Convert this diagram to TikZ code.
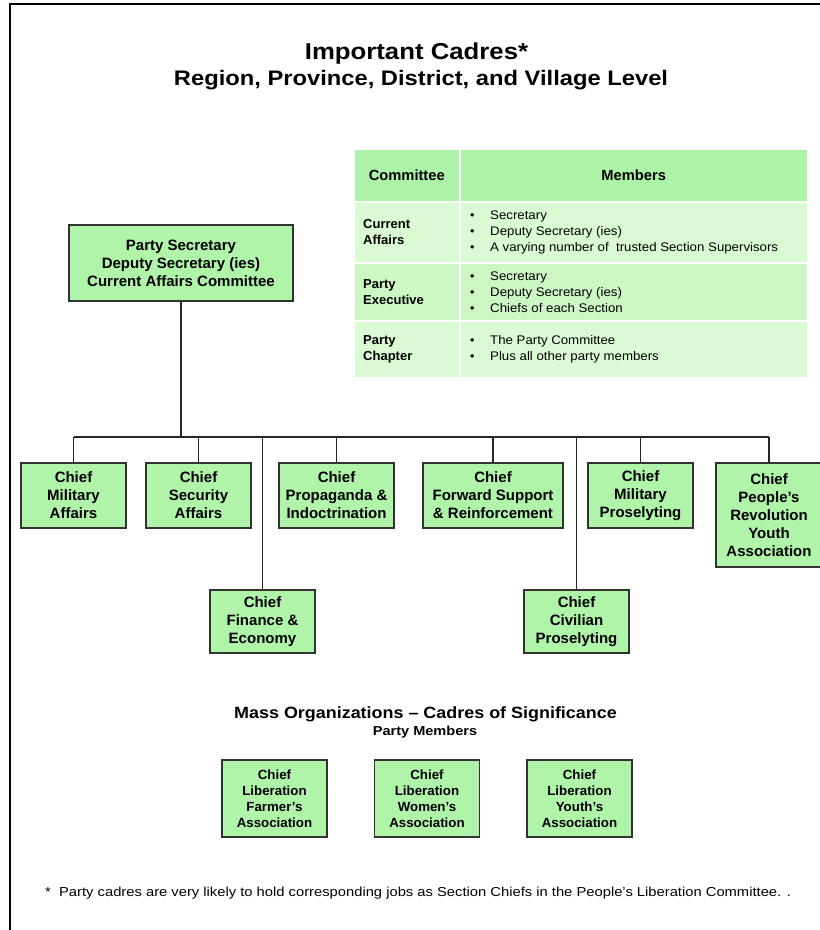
\documentclass[tikz,border=0pt]{standalone}
\usepackage{graphicx}
\usepackage{fontspec}
\setmainfont{Liberation Sans}
\definecolor{boxgreen}{RGB}{176,244,170}
\definecolor{boxline}{RGB}{50,50,50}
\definecolor{tblhead}{RGB}{172,242,168}
\definecolor{tbllight}{RGB}{218,250,212}
\definecolor{tblmid}{RGB}{204,246,196}
\newcommand\blt[1]{\makebox[21pt][l]{\hspace{1pt}\textbullet}\scalebox{1.06}[1]{#1}}
\begin{document}
\begin{tikzpicture}[x=1pt,y=-1pt,
  cbox/.style={draw=boxline,line width=1.5pt,fill=boxgreen,align=center,inner sep=0pt,
    font=\bfseries\fontsize{15}{18}\selectfont},
  rowbox/.style={cbox,minimum width=105pt,minimum height=65pt},
  lowbox/.style={cbox,minimum width=105pt,minimum height=63pt},
  mbox/.style={cbox,font=\bfseries\fontsize{13.3}{16}\selectfont,minimum width=105pt,minimum height=77pt},
  link/.style={draw=black!85,line width=1.5pt},
  cell/.style={draw=white,line width=1.5pt,inner sep=0pt,anchor=north west},
  lbl/.style={anchor=west,align=left,inner sep=0pt,font=\bfseries\fontsize{13}{16}\selectfont},
  items/.style={anchor=west,align=left,inner sep=0pt,font=\fontsize{12.5}{16}\selectfont},
]
\useasboundingbox (0,0) rectangle (820,930);
\draw[line width=2.5pt] (10,930) -- (10,4) -- (820,4);

% titles
\node[anchor=base,inner sep=0pt,font=\bfseries\fontsize{23}{28}\selectfont] (title) at (416.5,59) {\scalebox{1.12}[1]{Important Cadres*}};
\node[anchor=base,inner sep=0pt,font=\bfseries\fontsize{21}{25}\selectfont] (subtitle) at (421,85) {\scalebox{1.13}[1]{Region, Province, District, and Village Level}};

% table
\node[cell,fill=tblhead,minimum width=106pt,minimum height=53pt] (hc) at (353,148) {};
\node[cell,fill=tblhead,minimum width=348pt,minimum height=53pt] (hm) at (459,148) {};
\node[cell,fill=tbllight,minimum width=106pt,minimum height=61pt] (r1c) at (353,201) {};
\node[cell,fill=tbllight,minimum width=348pt,minimum height=61pt] (r1m) at (459,201) {};
\node[cell,fill=tblmid,minimum width=106pt,minimum height=58pt] (r2c) at (353,262) {};
\node[cell,fill=tblmid,minimum width=348pt,minimum height=58pt] (r2m) at (459,262) {};
\node[cell,fill=tbllight,minimum width=106pt,minimum height=57pt] (r3c) at (353,320) {};
\node[cell,fill=tbllight,minimum width=348pt,minimum height=57pt] (r3m) at (459,320) {};

\node[font=\bfseries\fontsize{14.7}{18}\selectfont] (hct) at (hc.center) {Committee};
\node[font=\bfseries\fontsize{14.7}{18}\selectfont] (hmt) at (hm.center) {Members};
\node[lbl] (r1l) at ([xshift=10pt]r1c.west) {Current\\Affairs};
\node[lbl] (r2l) at ([xshift=10pt]r2c.west) {Party\\Executive};
\node[lbl] (r3l) at ([xshift=10pt]r3c.west) {Party\\Chapter};
\node[items] (r1i) at ([xshift=10pt]r1m.west) {\blt{Secretary}\\\blt{Deputy Secretary (ies)}\\\blt{A varying number of\ \ trusted Section Supervisors}};
\node[items] (r2i) at ([xshift=10pt]r2m.west) {\blt{Secretary}\\\blt{Deputy Secretary (ies)}\\\blt{Chiefs of each Section}};
\node[items] (r3i) at ([xshift=10pt]r3m.west) {\blt{The Party Committee}\\\blt{Plus all other party members}};

% hierarchy
\node[cbox,minimum width=224pt,minimum height=76pt] (sec) at (181,263)
  {Party Secretary\\Deputy Secretary (ies)\\Current Affairs Committee};
\coordinate (busy) at (0,437);

\node[rowbox] (mil) at (73.5,495.5) {Chief\\Military\\Affairs};
\node[rowbox] (secu) at (198.5,495.5) {Chief\\Security\\Affairs};
\node[rowbox,minimum width=115pt] (prop) at (336.5,495.5) {Chief\\Propaganda \&\\Indoctrination};
\node[lowbox] (fin) at (262.5,621.5) {Chief\\Finance \&\\Economy};
\node[rowbox,minimum width=140pt] (fwd) at (493,495.5) {Chief\\Forward Support\\\& Reinforcement};
\node[lowbox] (civ) at (576.5,621.5) {Chief\\Civilian\\Proselyting};
\node[rowbox] (mpr) at (640.5,495.5) {Chief\\Military\\Proselyting};
\node[cbox,minimum width=106pt,minimum height=104pt] (pry) at (769,515) {Chief\\People's\\Revolution\\Youth\\Association};

\draw[link] (sec.south) -- (sec.south |- busy);
\draw[link] (mil.north |- busy) -- (pry.north |- busy);
\foreach \n in {mil,secu,prop,fin,fwd,civ,mpr,pry}
  \draw[link] (\n.north) -- (\n.north |- busy);

% mass organizations
\node[anchor=base,inner sep=0pt,font=\bfseries\fontsize{16.3}{20}\selectfont] (massh) at (425.5,718) {\scalebox{1.1}[1]{Mass Organizations -- Cadres of Significance}};
\node[anchor=base,inner sep=0pt,font=\bfseries\fontsize{13}{15}\selectfont] (masss) at (425,735) {\scalebox{1.12}[1]{Party Members}};
\node[mbox] (farm) at (274.5,798.5) {Chief\\Liberation\\Farmer's\\Association};
\node[mbox] (wom) at (427,798.5) {Chief\\Liberation\\Women's\\Association};
\node[mbox] (yth) at (579.5,798.5) {Chief\\Liberation\\Youth's\\Association};

% footnote
\node[anchor=base west,inner sep=0pt,font=\fontsize{13}{15}\selectfont] (foot) at (45,896)
  {\scalebox{1.135}[1]{*\ \ Party cadres are very likely to hold corresponding jobs as Section Chiefs in the People's Liberation Committee. .}};
\end{tikzpicture}
\end{document}
